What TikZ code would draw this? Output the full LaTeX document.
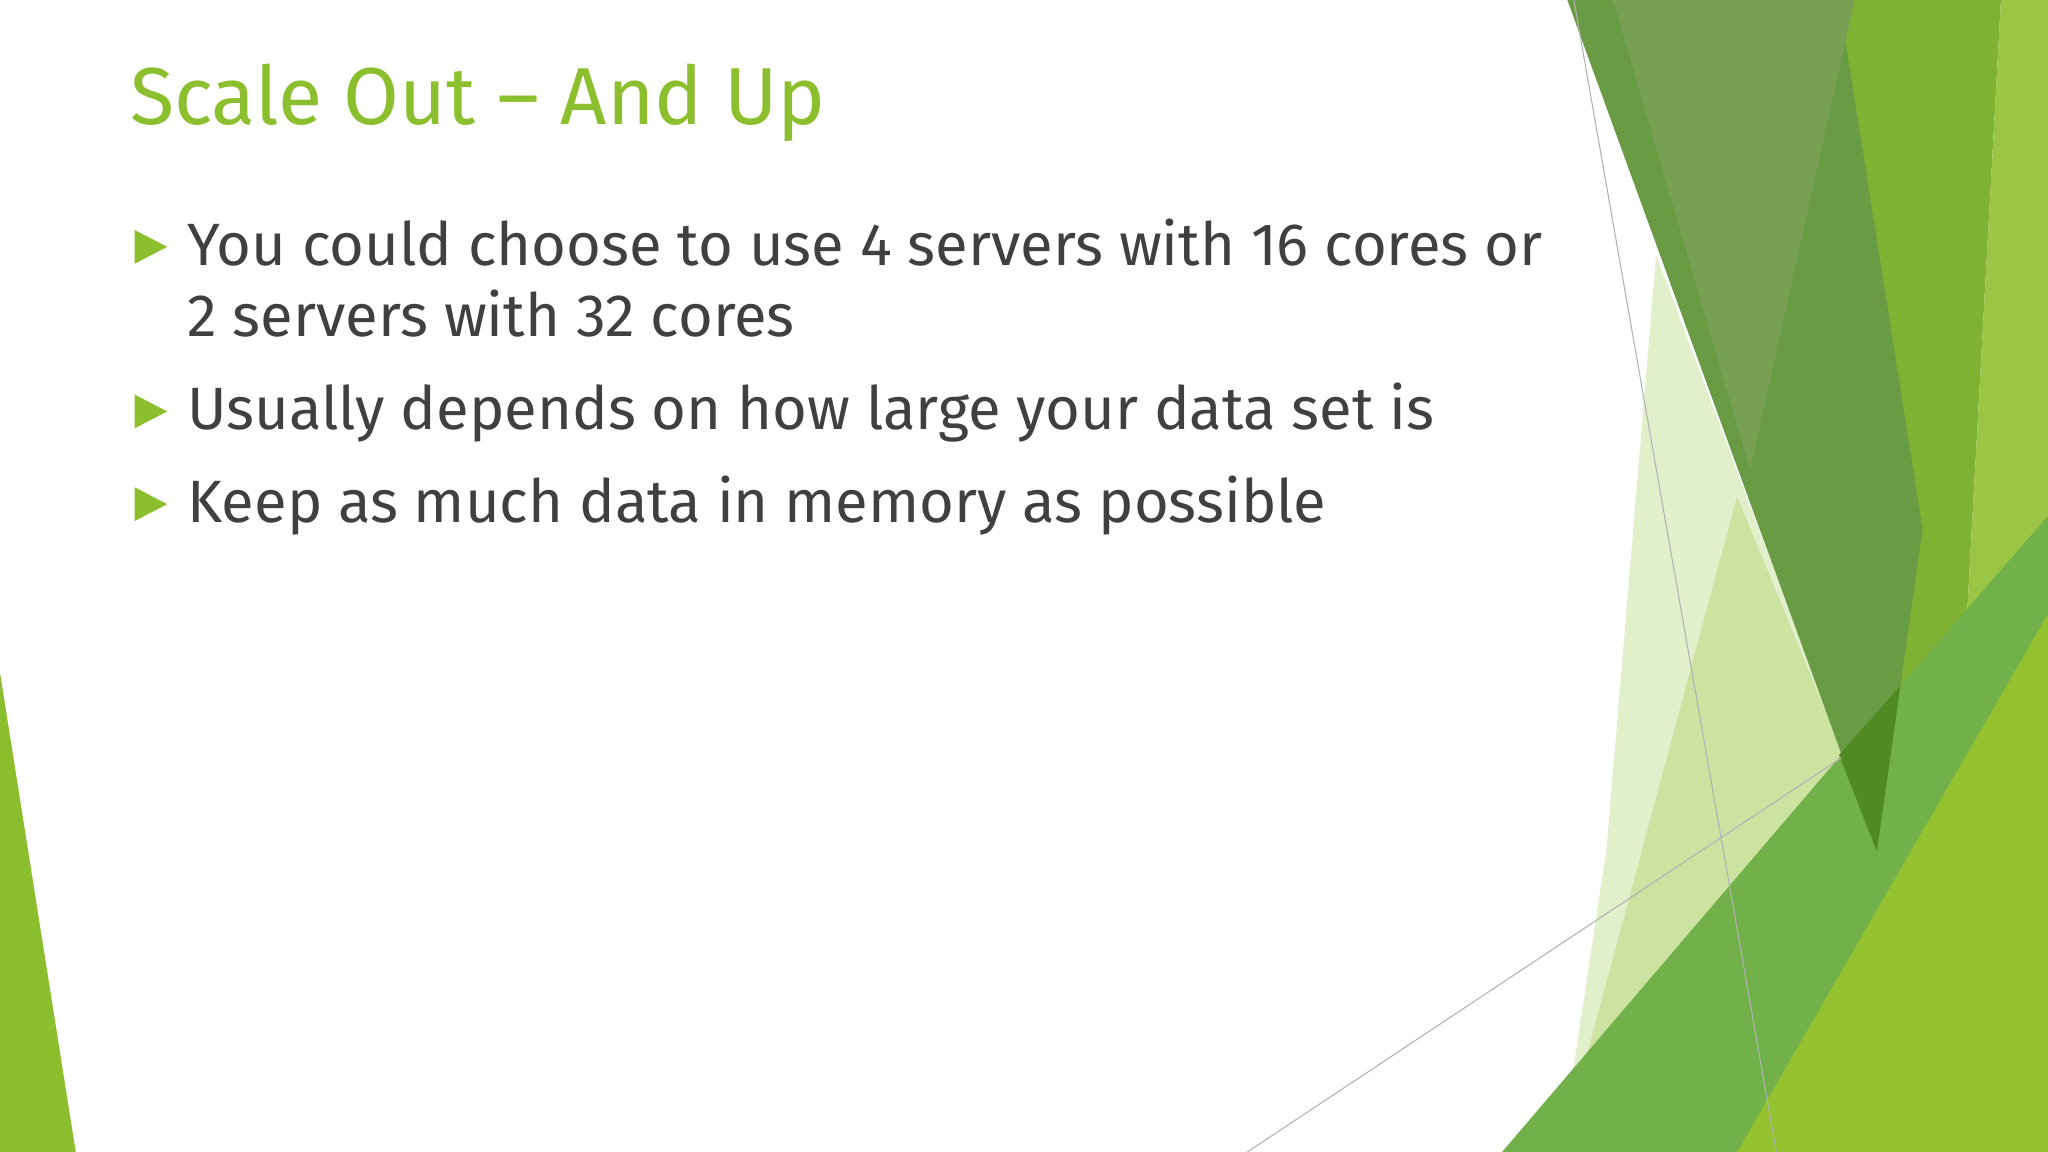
\documentclass[tikz,border=0pt]{standalone}
\usepackage{fontspec}
\setmainfont{Fira Sans}
\definecolor{txt}{HTML}{404040}
\definecolor{ttl}{HTML}{8CBF2E}
\definecolor{cmid}{HTML}{7FB232}
\definecolor{clime}{HTML}{9BC544}
\definecolor{cdark}{HTML}{699A44}
\definecolor{cdark2}{HTML}{77A053}
\definecolor{cbig}{HTML}{72B04A}
\definecolor{cdeep}{HTML}{4F8A23}
\definecolor{clime2}{HTML}{93C130}
\begin{document}
\begin{tikzpicture}[x=0.013061cm,y=-0.013061cm,
  bul/.style={fill=ttl,draw=none},
  body/.style={anchor=base west,inner sep=0,text=txt,font=\fontsize{17}{22}\selectfont},
  thin/.style={draw=gray!60,line width=0.3pt}]
\useasboundingbox (0,0) rectangle (1568,882);
\fill[white] (0,0) rectangle (1568,882);
\fill[ttl] (0,515) -- (0,882) -- (58,882) -- cycle;
\fill[ttl!25] (1268,195) -- (1410,575) -- (1195,882) -- (1230,650) -- cycle;
\fill[ttl!45] (1330,380) -- (1410,575) -- (1260,882) -- (1195,882) -- cycle;
\fill[cmid] (1408,0) -- (1532,0) -- (1500,580) -- (1437,652) -- cycle;
\fill[clime] (1532,0) -- (1568,0) -- (1568,882) -- (1400,882) -- (1440,650) -- (1500,580) -- cycle;
\fill[cdark] (1200,0) -- (1408,0) -- (1472,405) -- (1437,652) -- cycle;
\fill[cdark2] (1235,0) -- (1420,0) -- (1340,360) -- cycle;
\fill[cbig] (1150,882) -- (1455,525) -- (1568,395) -- (1568,882) -- cycle;
\fill[cdeep] (1408,578) -- (1455,525) -- (1437,652) -- cycle;
\fill[clime2] (1330,882) -- (1568,470) -- (1568,882) -- cycle;
\draw[thin] (1205,0) -- (1360,882);
\draw[thin] (955,882) -- (1410,580);
\node[anchor=base west,inner sep=0,text=ttl,font=\fontsize{23}{28}\selectfont] (title) at (99,95) {Scale Out – And Up};
\foreach \y in {190,316,387}{
  \fill[bul] (103,\y-14) -- (128,\y-1) -- (103,\y+12) -- cycle;
}
\node[body] (l1) at (143,203) {You could choose to use 4 servers with 16 cores or};
\node[body] (l2) at (143,258) {2 servers with 32 cores};
\node[body] (l3) at (143,329) {Usually depends on how large your data set is};
\node[body] (l4) at (143,400) {Keep as much data in memory as possible};
\end{tikzpicture}
\end{document}
